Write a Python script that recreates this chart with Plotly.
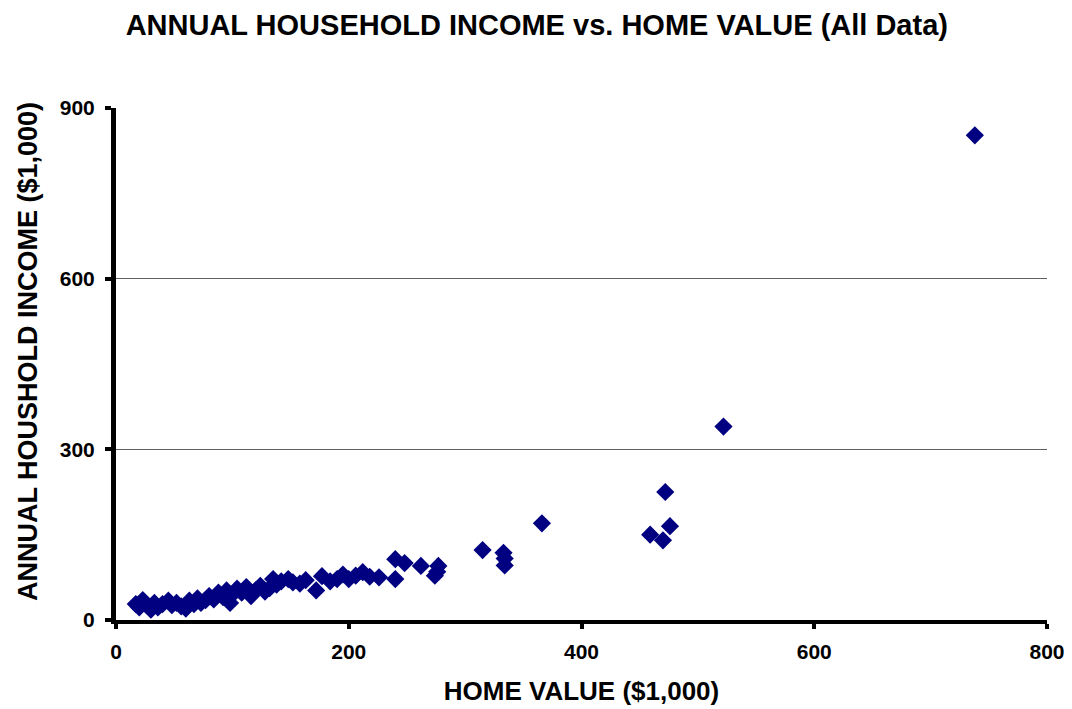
import plotly.graph_objects as go

# values, in $1,000
home_value = [17, 20, 23, 27, 30, 33, 36, 40, 45, 48, 52, 56, 60, 63, 67, 70, 73, 77, 80, 84,
              88, 92, 95, 98, 100, 104, 108, 112, 116, 120, 124, 128, 132, 135, 138, 142, 148,
              152, 158, 163, 172, 177, 184, 190, 195, 200, 206, 212, 218, 226, 240, 240, 248,
              262, 274, 276, 277, 315, 333, 334, 334, 366, 459, 470, 472, 476, 522, 738]
income = [28, 22, 35, 25, 18, 30, 22, 28, 34, 26, 30, 24, 20, 34, 28, 38, 30, 35, 42, 36,
          48, 40, 52, 30, 45, 55, 48, 58, 42, 52, 60, 50, 56, 72, 62, 68, 72, 66, 64, 70,
          52, 77, 68, 72, 80, 72, 78, 84, 76, 75, 107, 72, 100, 95, 78, 85, 95, 123, 118,
          108, 96, 170, 150, 140, 225, 165, 340, 852]

x_ticks = [0, 200, 400, 600, 800]
y_ticks = [0, 300, 600, 900]

fig = go.Figure(go.Scatter(
    x=home_value,
    y=income,
    mode='markers',
    marker=dict(symbol='diamond', size=14, color='#000080', line=dict(width=0)),
    hoverinfo='x+y'
))

# page body has an 8px margin, so the figure is 8px smaller than the window
fig.update_layout(
    title=dict(text='<b>ANNUAL HOUSEHOLD INCOME vs. HOME VALUE (All Data)</b>',
               x=0.497, xanchor='center', y=0.976, yanchor='middle',
               font=dict(size=29)),
    width=1064, height=701,
    margin=dict(l=108, r=25, t=100, b=89, autoexpand=False),
    paper_bgcolor='white', plot_bgcolor='white',
    showlegend=False,
    font=dict(family='Liberation Sans, Arial, sans-serif', color='black'),
)

fig.update_xaxes(
    range=[0, 800], tickvals=x_ticks, ticktext=[f'<b>{v}</b>' for v in x_ticks],
    tickfont=dict(size=21), showgrid=False, zeroline=False,
    showline=True, linecolor='black', linewidth=4,
    ticks='outside', ticklen=5, tickwidth=4, tickcolor='black', ticklabelstandoff=5,
    title=dict(text='<b>HOME VALUE ($1,000)</b>', font=dict(size=26), standoff=21),
)
fig.update_yaxes(
    range=[0, 900], tickvals=y_ticks, ticktext=[f'<b>{v}</b>' for v in y_ticks],
    tickfont=dict(size=21), showgrid=True, gridcolor='#606060', gridwidth=1,
    zeroline=False, showline=True, linecolor='black', linewidth=5,
    ticks='outside', ticklen=6, tickwidth=4, tickcolor='black', ticklabelstandoff=6,
)

fig.add_annotation(
    text='<b>ANNUAL HOUSHOLD INCOME ($1,000)</b>', textangle=-90,
    xref='paper', yref='paper', x=0, y=0.5, xanchor='center', yanchor='middle',
    xshift=-88, yshift=12,
    showarrow=False, font=dict(size=27),
)

fig.write_html("out.html")
